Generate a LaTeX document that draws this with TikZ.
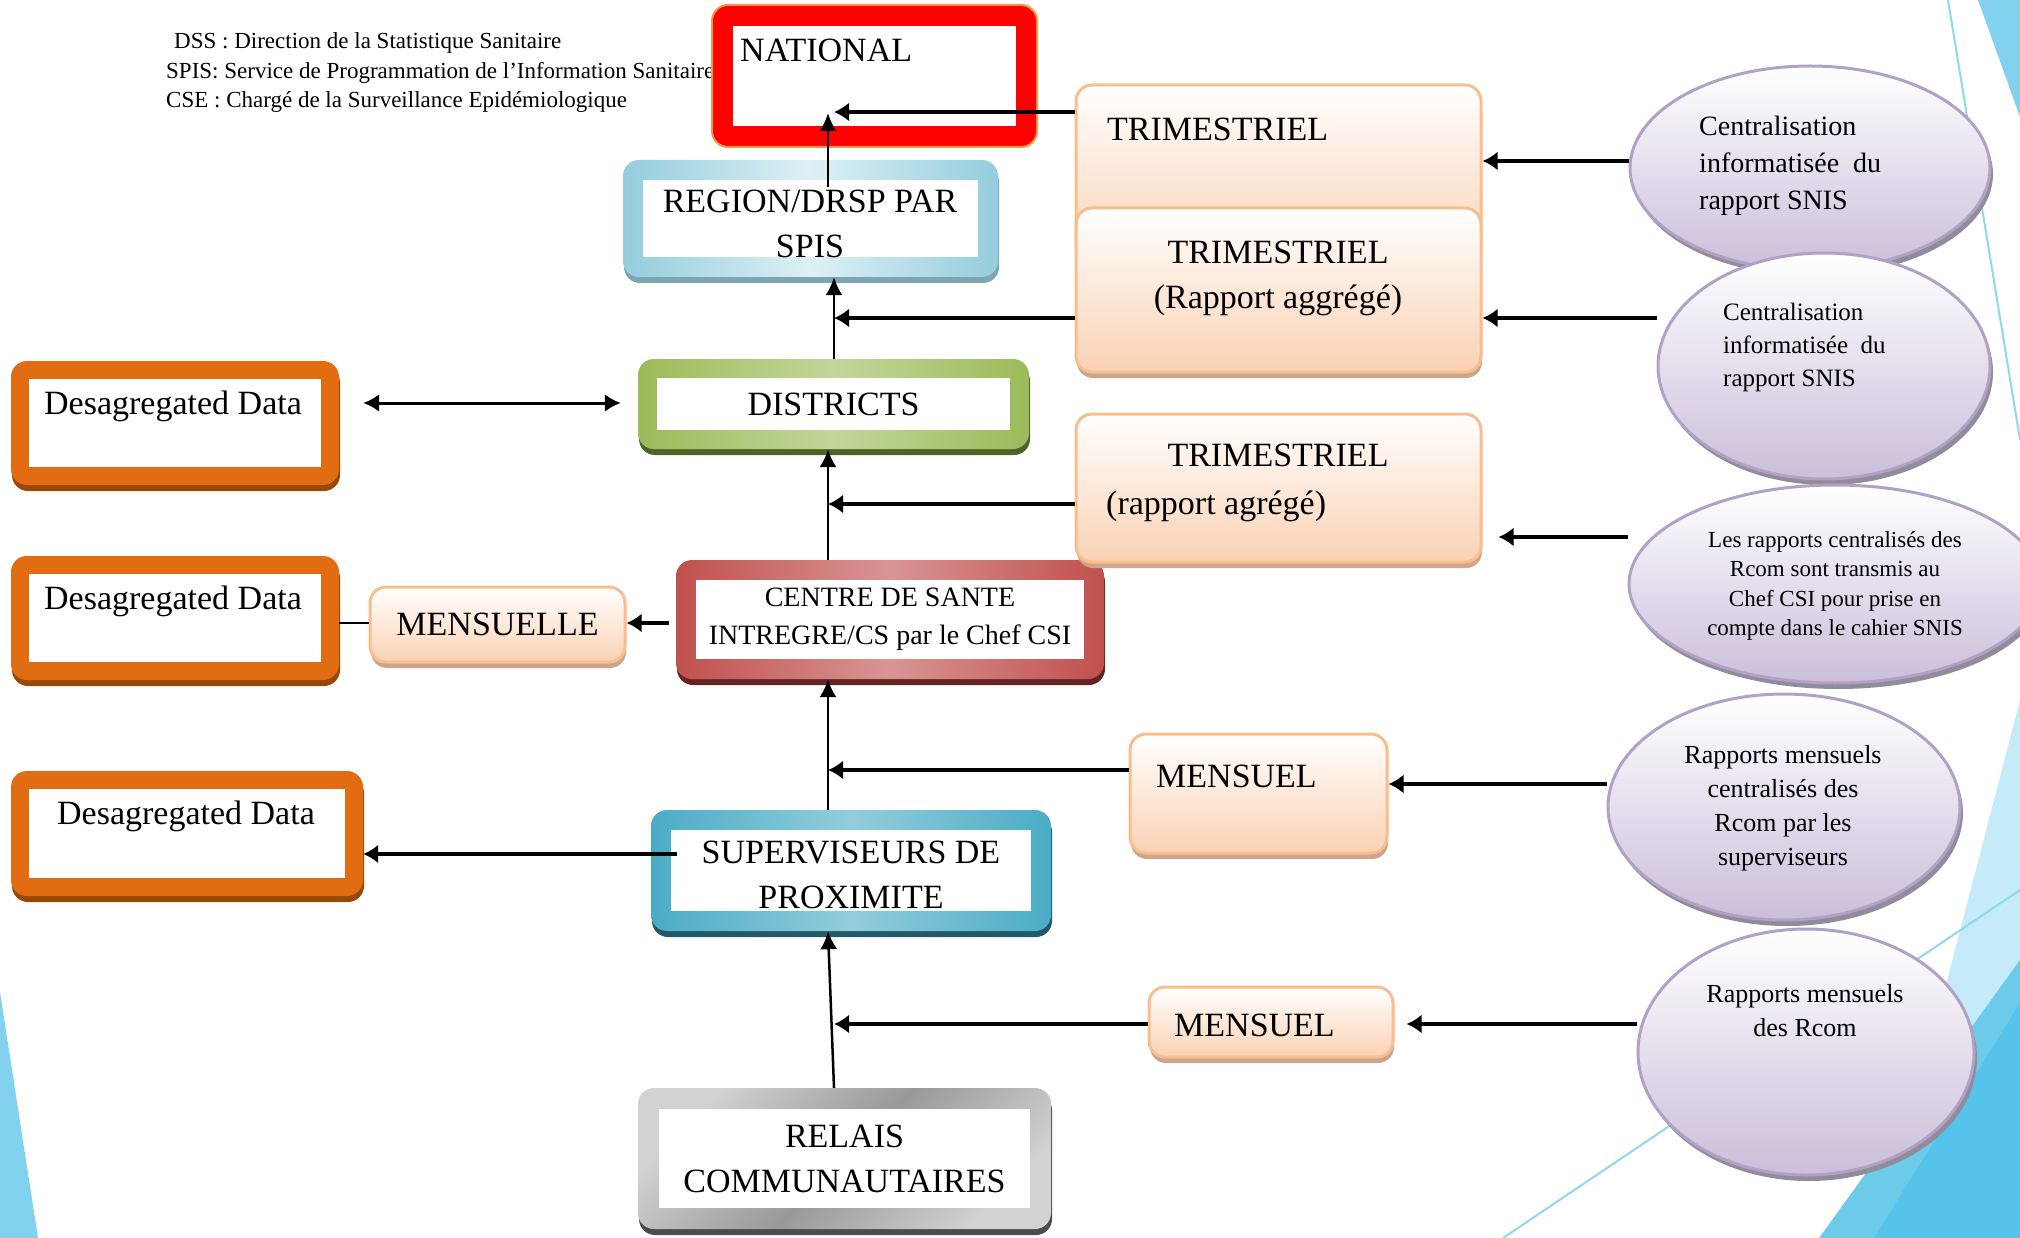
\documentclass[tikz,border=0pt]{standalone}
\usepackage{fontspec}
\setmainfont{Liberation Serif}
\usetikzlibrary{arrows.meta,shapes.geometric,shadows,calc,backgrounds}

\definecolor{natred}{RGB}{255,0,0}
\definecolor{natorange}{RGB}{247,150,70}
\definecolor{regblue}{RGB}{147,205,221}
\definecolor{reglight}{RGB}{222,240,245}
\definecolor{regshadow}{RGB}{125,165,178}
\definecolor{disgreen}{RGB}{155,187,89}
\definecolor{dislight}{RGB}{195,214,155}
\definecolor{disshadow}{RGB}{79,98,40}
\definecolor{desorange}{RGB}{226,108,18}
\definecolor{desshadow}{RGB}{152,72,7}
\definecolor{csired}{RGB}{192,80,77}
\definecolor{csilight}{RGB}{217,149,148}
\definecolor{csishadow}{RGB}{99,37,35}
\definecolor{supblue}{RGB}{75,172,198}
\definecolor{suplight}{RGB}{146,205,220}
\definecolor{supshadow}{RGB}{33,89,104}
\definecolor{peach}{RGB}{250,210,180}
\definecolor{peachline}{RGB}{250,190,140}
\definecolor{peachshadow}{RGB}{205,165,140}
\definecolor{lilac}{RGB}{203,190,218}
\definecolor{lilacline}{RGB}{178,161,199}
\definecolor{lilacshadow}{RGB}{145,140,155}
\definecolor{skyA}{RGB}{130,210,239}
\definecolor{skyB}{RGB}{197,235,248}
\definecolor{skyC}{RGB}{109,203,234}
\definecolor{skyD}{RGB}{85,195,234}
\definecolor{skyline}{RGB}{142,216,240}

\newcommand\bigtxt{\fontsize{34}{45}\selectfont}
\newcommand\cstxt{\fontsize{28}{38}\selectfont}
\newcommand\legtxt{\fontsize{23}{29}\selectfont}
\newcommand\snistxt{\fontsize{28}{37}\selectfont}
\newcommand\snissmall{\fontsize{25}{33}\selectfont}
\newcommand\rcomtxt{\fontsize{23}{29.5}\selectfont}
\newcommand\mentxt{\fontsize{26}{34}\selectfont}

\begin{document}
\begin{tikzpicture}[x=1pt,y=-1pt,
  txt/.style={inner sep=0pt, font=\bigtxt},
  legend/.style={inner sep=0pt, font=\legtxt},
  box/.style={rectangle, rounded corners=16pt, inner sep=0pt, align=center, font=\bigtxt},
  inset/.style={path picture={\fill[white,sharp corners] ([xshift=#1,yshift=-#1]path picture bounding box.north west) rectangle ([xshift=-#1,yshift=#1]path picture bounding box.south east);}},
  lift/.style={drop shadow={shadow xshift=1pt,shadow yshift=-6pt,fill=#1,opacity=1}},
  natbox/.style={box, fill=natred, draw=natorange, line width=2pt, inset=21pt},
  regbox/.style={box, left color=regblue, right color=regblue, middle color=reglight, inset=20pt, lift=regshadow},
  disbox/.style={box, left color=disgreen, right color=disgreen, middle color=dislight, inset=19pt, lift=disshadow},
  desbox/.style={box, fill=desorange, inset=18pt, lift=desshadow},
  csbox/.style={box, left color=csired, right color=csired, middle color=csilight, inset=20pt, lift=csishadow},
  supbox/.style={box, left color=supblue, right color=supblue, middle color=suplight, inset=20pt, lift=supshadow},
  rcbox/.style={box, left color=gray!35, right color=gray!35, middle color=gray!80, shading angle=45, inset=21pt, lift=gray!60!black},
  peachbox/.style={box, top color=white, bottom color=peach, draw=peachline, line width=3pt, lift=peachshadow},
  snis/.style={ellipse, inner sep=0pt, top color=white, bottom color=lilac, draw=lilacline, line width=3pt, drop shadow={shadow xshift=3pt,shadow yshift=-6pt,fill=lilacshadow,opacity=1}},
  arrthin/.style={line width=2.5pt, -{Latex[length=18pt,width=17pt]}},
  arrthick/.style={line width=4pt, -{Latex[length=15pt,width=19pt]}},
  arrboth/.style={line width=3pt, {Latex[length=16pt,width=18pt]}-{Latex[length=16pt,width=18pt]}},
  plain/.style={line width=2.5pt}]
\useasboundingbox (0,0) rectangle (2020,1238);

% background wedges
\fill[skyA] (1978,0) -- (2020,0) -- (2020,117) -- cycle;
\draw[skyline,line width=2pt] (1948,0) -- (2020,440);
\fill[skyB] (2020,700) -- (1880,1238) -- (2020,1238) -- cycle;
\fill[skyC] (2020,960) -- (1819,1238) -- (2020,1238) -- cycle;
\fill[skyD] (2020,1003) -- (1874,1238) -- (2020,1238) -- cycle;
\draw[skyline,line width=2pt] (2020,890) -- (1503,1238);
\fill[skyA] (0,992) -- (38,1238) -- (0,1238) -- cycle;

% legend
\node[legend, anchor=base west] (dss) at (174,49) {DSS : Direction de la Statistique Sanitaire};
\node[legend, anchor=base west] (spis) at (166,79) {SPIS: Service de Programmation de l’Information Sanitaire};
\node[legend, anchor=base west] (cse) at (166,108) {CSE : Chargé de la Surveillance Epidémiologique};

% levels
\node[natbox, minimum width=325pt, minimum height=142pt] (national) at (874.5,76) {};
\node[txt, anchor=base west] (national-t) at (740,62) {NATIONAL};
\node[regbox, minimum width=375pt, minimum height=117pt] (region) at (810.5,218.5) {};
\node[txt, align=center] (region-t) at (810,223.5) {REGION/DRSP PAR\\SPIS};
\node[disbox, minimum width=391pt, minimum height=90pt] (districts) at (833.5,404) {DISTRICTS};
\node[csbox, minimum width=428pt, minimum height=119pt, font=\cstxt] (centre) at (890,619.5) {CENTRE DE SANTE\\INTREGRE/CS par le Chef CSI};
\node[supbox, minimum width=400pt, minimum height=121pt] (superv) at (851,870.5) {};
\node[txt, align=center] (superv-t) at (851,874.5) {SUPERVISEURS DE\\PROXIMITE};
\node[rcbox, minimum width=413pt, minimum height=141pt] (relais) at (844.5,1158.5) {RELAIS\\COMMUNAUTAIRES};

% disaggregated data
\node[desbox, minimum width=328pt, minimum height=124pt] (desag1) at (175,423) {};
\node[txt, anchor=base west] (desag1-t) at (44,414) {Desagregated Data};
\node[desbox, minimum width=328pt, minimum height=124pt] (desag2) at (175,618) {};
\node[txt, anchor=base west] (desag2-t) at (44,609) {Desagregated Data};
\node[desbox, minimum width=352pt, minimum height=125pt] (desag3) at (187,833.5) {};
\node[txt, anchor=base] (desag3-t) at (186,824) {Desagregated Data};
\node[peachbox, minimum width=255pt, minimum height=75pt] (mensuelle) at (497.5,624.5) {MENSUELLE};

% periodicity
\node[peachbox, minimum width=405pt, minimum height=177pt] (trim1) at (1278.5,173.5) {};
\node[txt, anchor=base west] (trim1-t) at (1107,141) {TRIMESTRIEL};
\node[peachbox, minimum width=405pt, minimum height=164pt] (trim2) at (1278.5,290) {};
\node[txt, align=center] (trim2-t) at (1278,278) {TRIMESTRIEL\\(Rapport aggrégé)};
\node[peachbox, minimum width=405pt, minimum height=148pt] (trim3) at (1278.5,488) {};
\node[txt, anchor=base] (trim3-t) at (1278,466) {TRIMESTRIEL};
\node[txt, anchor=base west] (trim3-s) at (1106,514) {(rapport agrégé)};
\node[peachbox, minimum width=257pt, minimum height=119pt] (mensuel1) at (1258.5,793.5) {};
\node[txt, anchor=base west] (mensuel1-t) at (1156,787) {MENSUEL};
\node[peachbox, minimum width=244pt, minimum height=70pt] (mensuel2) at (1271,1022) {};
\node[txt, anchor=base west] (mensuel2-t) at (1174,1036) {MENSUEL};

% SNIS sources
\node[snis, minimum width=360pt, minimum height=204pt] (snis1) at (1810,168) {};
\node[txt, font=\snistxt, align=left, anchor=west] (snis1-t) at (1699,166) {Centralisation\\informatisée~~du\\rapport SNIS};
\node[snis, minimum width=332pt, minimum height=226pt] (snis2) at (1824,366) {};
\node[txt, font=\snissmall, align=left, anchor=west] (snis2-t) at (1723,347) {Centralisation\\informatisée~~du\\rapport SNIS};
\node[snis, minimum width=412pt, minimum height=198pt] (snis3) at (1835,584) {};
\node[txt, font=\rcomtxt, align=center] (snis3-t) at (1835,586) {Les rapports centralisés des\\Rcom sont transmis au\\Chef CSI pour prise en\\compte dans le cahier SNIS};
\node[snis, minimum width=352pt, minimum height=226pt] (snis4) at (1784,807) {};
\node[txt, font=\mentxt, align=center] (snis4-t) at (1783,808) {Rapports mensuels\\centralisés des\\Rcom par les\\superviseurs};
\node[snis, minimum width=336pt, minimum height=246pt] (snis5) at (1806,1052) {};
\node[txt, font=\mentxt, align=center] (snis5-t) at (1805,1011) {Rapports mensuels\\des Rcom};

% rows and spines
\coordinate (spine) at (828,0);
\coordinate (spineB) at (834,0);
\coordinate (rowNat) at (0,112);
\coordinate (rowReg) at (0,318);
\coordinate (rowDis) at (0,403);
\coordinate (rowDsa) at (0,504);
\coordinate (rowCs) at (0,623);
\coordinate (rowMen) at (0,770);
\coordinate (rowSup) at (0,854);
\coordinate (rowRc) at (0,1024);
\coordinate (rowS1) at (0,161);
\coordinate (rowS3) at (0,537);
\coordinate (rowS4) at (0,784);

% upward flow
\draw[arrthin] (relais.north -| spineB) -- (superv.south -| spine);
\draw[arrthin] (superv.north -| spine) -- (centre.south -| spine);
\draw[arrthin] (centre.north -| spine) -- (districts.south -| spine);
\draw[arrthin] (districts.north -| spineB) -- (region.south -| spineB);
\draw[arrthin] ($(region.north -| spine)+(0,27)$) -- ($(national.south -| spine)+(0,-35)$);

% reports into the flow
\draw[arrthick] (trim1.west |- rowNat) -- (spineB |- rowNat);
\draw[arrthick] (trim2.west |- rowReg) -- (spineB |- rowReg);
\draw[arrthick] (trim3.west |- rowDsa) -- (spine |- rowDsa);
\draw[arrthick] (mensuel1.west |- rowMen) -- (spine |- rowMen);
\draw[arrthick] (mensuel2.west |- rowRc) -- (spineB |- rowRc);

% left side
\draw[arrboth, shorten <=24pt, shorten >=17pt] (desag1.east |- rowDis) -- (districts.west |- rowDis);
\draw[arrthick] ($(centre.west |- rowCs)+(-7,0)$) -- (mensuelle.east |- rowCs);
\draw[plain] (desag2.east |- rowCs) -- (mensuelle.west |- rowCs);
\draw[arrthick] ($(superv.west |- rowSup)+(26,0)$) -- (desag3.east |- rowSup);

% SNIS sources to periodicity
\begin{scope}[on background layer]
\draw[arrthick] (snis1.west |- rowS1) -- (trim1.east |- rowS1);
\draw[arrthick] (snis2.west |- rowReg) -- (trim2.east |- rowReg);
\draw[arrthick, shorten >=16pt] (snis3.west |- rowS3) -- (trim3.east |- rowS3);
\draw[arrthick] (snis4.west |- rowS4) -- (mensuel1.east |- rowS4);
\draw[arrthick, shorten >=12pt] (snis5.west |- rowRc) -- (mensuel2.east |- rowRc);
\end{scope}
\end{tikzpicture}
\end{document}
